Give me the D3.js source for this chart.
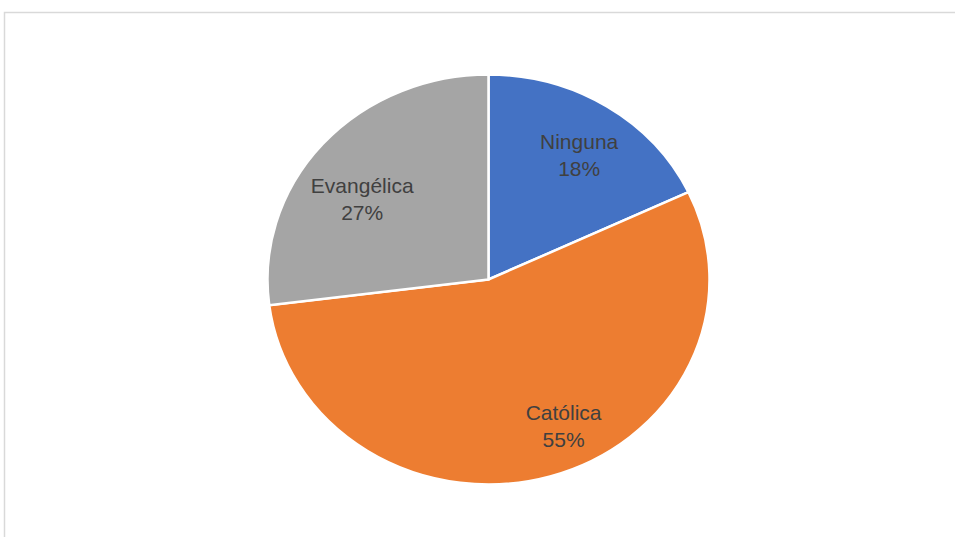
<!DOCTYPE html>
<html>
<head>
<meta charset="utf-8">
<script src="https://cdn.jsdelivr.net/npm/d3@7"></script>
<style>
  html, body { margin: 0; padding: 0; background: #ffffff; }
  svg { display: block; }
</style>
</head>
<body>
<svg id="chart" width="955" height="537"></svg>
<script>
// ---- data ----
const categories = ["Ninguna", "Católica", "Evangélica"];
const values = [18, 55, 27];
const colors = ["#4472C4", "#ED7D31", "#A5A5A5"];
// label nudges (px) relative to the slice centroid, to mimic Excel "best fit"
const labelNudgeX = [4, 30, -5];
const labelNudgeY = [2, 2, 19];

const svg = d3.select("#chart");

// chart area border
svg.append("rect")
  .attr("x", 4.5).attr("y", 12.5)
  .attr("width", 960).attr("height", 540)
  .attr("fill", "#ffffff")
  .attr("stroke", "#d9d9d9")
  .attr("stroke-width", 1.5);

const cx = 488.5, cy = 279.5;
const ry = 205, rx = 221;
const sx = rx / ry;

const data = categories.map((c, i) => ({ name: c, value: values[i], color: colors[i], i }));
const total = d3.sum(values);

const pie = d3.pie().value(d => d.value).sort(null);
const arcs = pie(data);
const arc = d3.arc().innerRadius(0).outerRadius(ry);
const labelArc = d3.arc().innerRadius(150).outerRadius(150);

const g = svg.append("g").attr("transform", `translate(${cx},${cy})`);
const pieG = g.append("g").attr("transform", `scale(${sx},1)`);

pieG.selectAll("path")
  .data(arcs)
  .join("path")
  .attr("d", arc)
  .attr("fill", d => d.data.color)
  .attr("stroke", "#ffffff")
  .attr("stroke-width", 2.5)
  .attr("vector-effect", "non-scaling-stroke");

const fmt = d3.format(".0%");
const labels = g.selectAll("g.label")
  .data(arcs)
  .join("g")
  .attr("class", "label")
  .attr("transform", d => {
    const [x, y] = labelArc.centroid(d);
    return `translate(${x * sx + labelNudgeX[d.data.i]},${y + labelNudgeY[d.data.i]})`;
  });

labels.append("text")
  .attr("text-anchor", "middle")
  .attr("y", -6)
  .attr("font-family", "Liberation Sans, Arial, sans-serif")
  .attr("font-size", 21)
  .attr("fill", "#404040")
  .text(d => d.data.name);

labels.append("text")
  .attr("text-anchor", "middle")
  .attr("y", 21)
  .attr("font-family", "Liberation Sans, Arial, sans-serif")
  .attr("font-size", 21)
  .attr("fill", "#404040")
  .text(d => fmt(d.data.value / total));
</script>
</body>
</html>
